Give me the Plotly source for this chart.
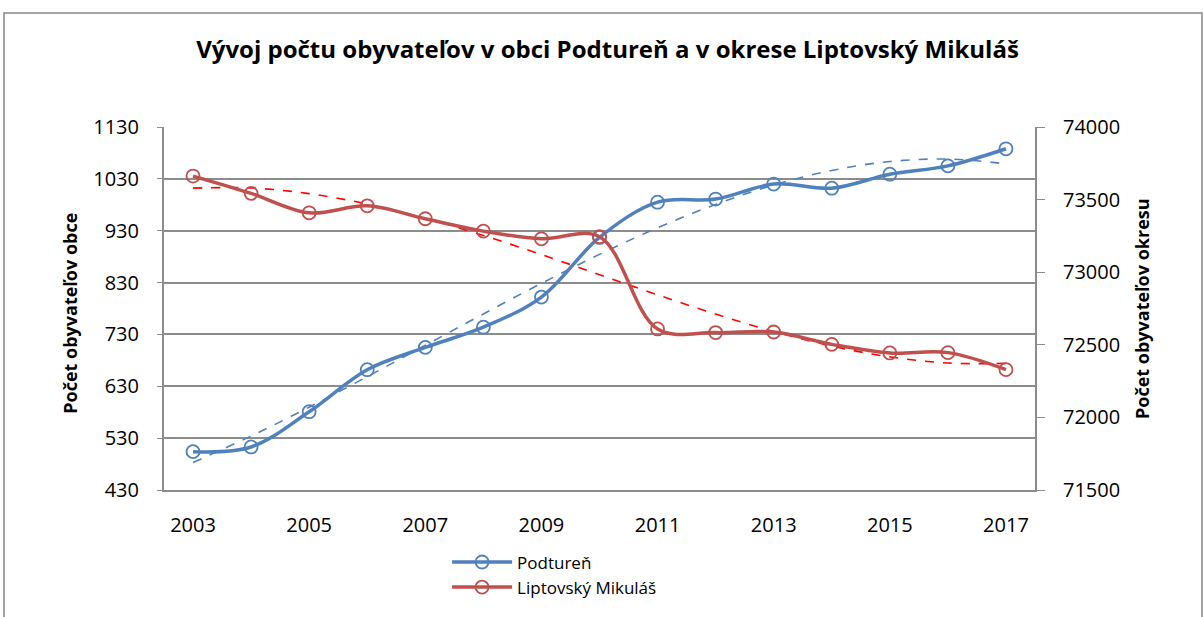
import numpy as np
import plotly.graph_objects as go

years = list(range(2003, 2018))
podturen = [504, 513, 581, 662, 705, 744, 802, 917, 985, 991, 1020, 1012, 1039, 1055, 1088]
liptovsky = [73662, 73543, 73409, 73457, 73368, 73283, 73230, 73244, 72609, 72584, 72588, 72503, 72444, 72446, 72329]
x_ticks = [2003, 2005, 2007, 2009, 2011, 2013, 2015, 2017]
left_ticks = [430, 530, 630, 730, 830, 930, 1030, 1130]
right_ticks = [71500, 72000, 72500, 73000, 73500, 74000]

BLUE = "#4F81BD"
RED = "#C0504D"
GRID = "#8C8C8C"
FONT = "Open Sans"

yr = np.array(years, dtype=float) - 2010
trend_b = np.polyval(np.polyfit(yr, podturen, 3), yr)
trend_r = np.polyval(np.polyfit(yr, liptovsky, 3), yr)

fig = go.Figure()
fig.add_trace(go.Scatter(x=years, y=trend_b, mode="lines", line=dict(color=BLUE, width=1.6, dash="dash", shape="spline"),
                         showlegend=False, hoverinfo="skip"))
fig.add_trace(go.Scatter(x=years, y=trend_r, mode="lines", yaxis="y2", line=dict(color="#FF0000", width=1.6, dash="dash", shape="spline"),
                         showlegend=False, hoverinfo="skip"))
fig.add_trace(go.Scatter(x=years, y=podturen, name="Podtureň", mode="lines+markers",
                         line=dict(color=BLUE, width=3.5, shape="spline"),
                         marker=dict(symbol="circle", size=13, color="rgba(255,255,255,0)", line=dict(color=BLUE, width=1.8))))
fig.add_trace(go.Scatter(x=years, y=liptovsky, name="Liptovský Mikuláš", mode="lines+markers", yaxis="y2",
                         line=dict(color=RED, width=3.5, shape="spline"),
                         marker=dict(symbol="circle", size=13, color="rgba(255,255,255,0)", line=dict(color=RED, width=1.8))))

fig.update_layout(
    width=1203, height=617,
    margin=dict(l=164, r=168, t=127, b=127),
    paper_bgcolor="white", plot_bgcolor="white",
    font=dict(family=FONT, size=20, color="#000000"),
    title=dict(text="<b>Vývoj počtu obyvateľov v obci Podtureň a v okrese Liptovský Mikuláš</b>",
               x=0.505, xanchor="center", y=0.919, yanchor="middle",
               font=dict(family=FONT, size=24, color="#000000")),
    xaxis=dict(range=[2002.5, 2017.5], tickvals=x_ticks, ticktext=[str(v) for v in x_ticks],
               showgrid=False, zeroline=False, showline=True, linecolor=GRID, linewidth=2,
               ticks="", tickfont=dict(size=20), ticklabelstandoff=16),
    yaxis=dict(range=[430, 1130], tickvals=left_ticks, showgrid=True, gridcolor=GRID, gridwidth=1.5,
               zeroline=False, showline=True, linecolor=GRID, linewidth=2, mirror=False,
               ticks="outside", ticklen=5, tickcolor=GRID, tickfont=dict(size=20), ticklabelstandoff=14),
    yaxis2=dict(range=[71500, 74000], tickvals=right_ticks, ticktext=[str(v) for v in right_ticks],
                overlaying="y", side="right",
                showgrid=False, zeroline=False, showline=True, linecolor=GRID, linewidth=2,
                ticks="outside", ticklen=8, tickcolor=GRID, tickfont=dict(size=20), ticklabelstandoff=14),
    legend=dict(x=0.325, y=-0.15, xanchor="left", yanchor="top", bgcolor="rgba(0,0,0,0)",
                font=dict(family=FONT, size=17), tracegroupgap=0, itemwidth=60),
    showlegend=True,
    annotations=[
        dict(text="<b>Počet obyvateľov obce</b>", xref="paper", yref="paper", x=-0.108, y=0.488,
             textangle=-90, showarrow=False, font=dict(family=FONT, size=18), xanchor="center", yanchor="middle"),
        dict(text="<b>Počet obyvateľov okresu</b>", xref="paper", yref="paper", x=1.1229, y=0.4986,
             textangle=-90, showarrow=False, font=dict(family=FONT, size=18), xanchor="center", yanchor="middle"),
    ],
    shapes=[dict(type="rect", xref="paper", yref="paper", x0=-0.1837, x1=1.1917, y0=-0.4, y1=1.314,
                 line=dict(color="#868686", width=1.5), fillcolor="rgba(0,0,0,0)", layer="below")],
)

fig.write_html("out.html", config={"displayModeBar": False},
               post_script="document.body.style.margin='0';")
